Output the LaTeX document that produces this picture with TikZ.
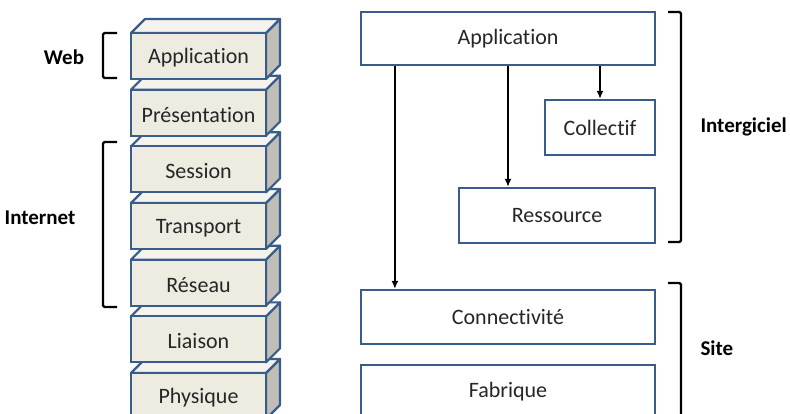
\documentclass[tikz,border=0pt]{standalone}
\usepackage{fontspec}
\setmainfont{Carlito}[Ligatures=NoCommon]
\usetikzlibrary{arrows.meta}
\definecolor{myblue}{RGB}{56,93,138}
\definecolor{myfront}{RGB}{238,236,225}
\definecolor{mytop}{RGB}{244,243,237}
\definecolor{myside}{RGB}{192,190,182}
\definecolor{mytext}{RGB}{38,38,38}

\begin{document}
\begin{tikzpicture}[x=1pt,y=-1pt,
    layertext/.style={text=mytext,font=\fontsize{22}{26}\selectfont},
    box/.style={draw=myblue,line width=2.2pt,fill=white,text=mytext,
        font=\fontsize{22}{26}\selectfont,inner sep=0pt},
    label/.style={font=\fontsize{21}{26}\selectfont\bfseries},
    bracket/.style={draw=black,line width=2.2pt,rounded corners=1.5pt},
    arr/.style={-{Latex[length=8pt,width=7pt]},line width=1.7pt}]
    \useasboundingbox (0,0) rectangle (790,414);
    \clip (0,0) rectangle (790,414);
    % OSI stack, drawn from the bottom up
    \foreach \i/\name in {6/Physique,5/Liaison,4/Réseau,3/Transport,2/Session,1/Présentation,0/Application}{
        \pgfmathsetmacro\yt{33+56.67*\i}
        \filldraw[myblue,line width=2.2pt,fill=myside,line join=round] (266,\yt) -- (280,\yt-14) -- (280,\yt+32) -- (266,\yt+46) -- cycle;
        \filldraw[myblue,line width=2.2pt,fill=mytop,line join=round] (131,\yt) -- (145,\yt-14) -- (280,\yt-14) -- (266,\yt) -- cycle;
        \filldraw[myblue,line width=2.2pt,fill=myfront] (131,\yt) rectangle (266,\yt+46);
        \node[layertext] (l\i) at (198.5,\yt+25) {\name};
    }
    % brackets of the stack
    \draw[bracket] (117,33) -- (103,33) -- (103,78) -- (117,78);
    \draw[bracket] (117,142) -- (103,142) -- (103,307) -- (117,307);
    \node[label] (web) at (64,57) {Web};
    \node[label] (internet) at (40,218) {Internet};
    % grid layers
    \node[box,minimum width=294pt,minimum height=53pt] (app) at (508,38.5) {Application};
    \node[box,minimum width=110pt,minimum height=55pt] (col) at (600,127.5) {Collectif};
    \node[box,minimum width=196pt,minimum height=55pt] (res) at (557,215.5) {Ressource};
    \node[box,minimum width=294pt,minimum height=54pt] (con) at (508,317) {Connectivité};
    \node[box,minimum width=294pt,minimum height=54pt] (fab) at (508,392) {Fabrique};
    \draw[arr] ([xshift=35pt]con.north west |- app.south) -- ([xshift=35pt]con.north west);
    \draw[arr] ([xshift=-49pt]res.north |- app.south) -- ([xshift=-49pt]res.north);
    \draw[arr] (col.north |- app.south) -- (col.north);
    % brackets on the right
    \draw[bracket] (668,12) -- (681,12) -- (681,242) -- (668,242);
    \draw[bracket] (668,283) -- (681,283) -- (681,430);
    \node[label,anchor=west] (mid) at (697,127) {Intergiciel};
    \node[label,anchor=west] (site) at (697,348) {Site};
\end{tikzpicture}
\end{document}
